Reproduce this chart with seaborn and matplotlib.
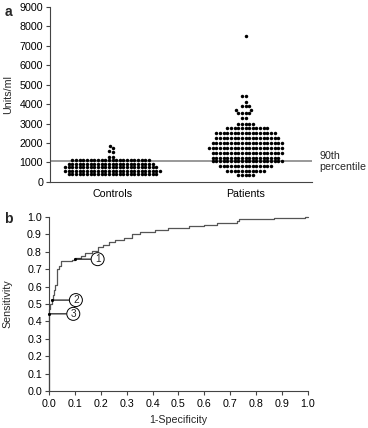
import numpy as np
import pandas as pd
import matplotlib
matplotlib.use("Agg")
import matplotlib.pyplot as plt
import seaborn as sns

# panel a: values, grouped in rows (level, how many dots)
control_levels = [400, 580, 760, 940, 1120, 1300, 1550, 1600, 1750, 1850]
control_counts = [25, 27, 26, 24, 22, 2, 1, 1, 1, 1]
patient_levels = [375, 575, 800, 1050, 1250, 1500, 1750, 2000, 2250, 2500, 2750,
                  3000, 3300, 3550, 3700, 3900, 4100, 4400, 7500]
patient_counts = [5, 11, 15, 20, 19, 20, 21, 20, 18, 17, 12, 5, 2, 4, 2, 3, 1, 2, 1]
percentile_90 = 1100

# panel b: ROC curve, start of each horizontal step
roc_fpr = [0.000, 0.000, 0.005, 0.010, 0.015, 0.020, 0.025, 0.030, 0.032, 0.040, 0.045,
           0.090, 0.100, 0.125, 0.140, 0.165, 0.190, 0.210, 0.230, 0.255, 0.290, 0.320,
           0.350, 0.410, 0.460, 0.540, 0.600, 0.650, 0.725, 0.735, 0.870, 0.990, 1.000]
roc_tpr = [0.000, 0.470, 0.500, 0.520, 0.550, 0.580, 0.610, 0.650, 0.700, 0.720, 0.745,
           0.755, 0.765, 0.775, 0.790, 0.805, 0.825, 0.840, 0.855, 0.865, 0.880, 0.900,
           0.912, 0.925, 0.935, 0.945, 0.955, 0.962, 0.975, 0.985, 0.992, 1.000, 1.000]
cut_labels = ["1", "2", "3"]
cut_fpr = [0.100, 0.010, 0.000]
cut_tpr = [0.757, 0.522, 0.443]
cut_label_fpr = [0.188, 0.104, 0.094]

sns.set_style("ticks")
plt.rcParams["font.family"] = ["Liberation Sans", "DejaVu Sans"]
plt.rcParams["axes.edgecolor"] = "#444444"
plt.rcParams["xtick.color"] = "#444444"
plt.rcParams["ytick.color"] = "#444444"
plt.rcParams["xtick.labelcolor"] = "black"
plt.rcParams["ytick.labelcolor"] = "black"

FS = 7.7

df = pd.DataFrame({
    "group": ["Controls"] * sum(control_counts) + ["Patients"] * sum(patient_counts),
    "units": np.concatenate([np.repeat(control_levels, control_counts),
                             np.repeat(patient_levels, patient_counts)]),
})

fig = plt.figure(figsize=(3.68, 4.28), dpi=100)
ax1 = fig.add_axes([0.136, 0.575, 0.712, 0.409])
ax2 = fig.add_axes([0.133, 0.0864, 0.704, 0.407])

# --- a ---
sns.swarmplot(data=df, x="group", y="units", color="black", size=2.5, linewidth=0, ax=ax1)
ax1.axhline(percentile_90, color="#888888", lw=1.2, zorder=0)
ax1.set_xlim(-0.47, 1.5)
ax1.set_ylim(0, 9000)
ax1.set_yticks(range(0, 9001, 1000))
ax1.tick_params(axis="y", labelsize=FS, length=3, width=0.8, pad=2)
ax1.tick_params(axis="x", labelsize=FS, length=0, pad=5)
ax1.set_xlabel("")
ax1.set_ylabel("Units/ml", fontsize=FS)
ax1.yaxis.set_label_coords(-0.14, 0.5)
ax1.annotate("90th\npercentile", xy=(1.027, percentile_90 - 50),
             xycoords=("axes fraction", "data"), fontsize=FS, va="center", ha="left",
             annotation_clip=False)
sns.despine(ax=ax1)

# --- b ---
sns.lineplot(x=roc_fpr, y=roc_tpr, estimator=None, sort=False, drawstyle="steps-post",
             color="#555555", lw=0.9, ax=ax2, clip_on=False)
sns.scatterplot(x=cut_fpr, y=cut_tpr, color="black", s=5, linewidth=0, ax=ax2, clip_on=False, zorder=4)
for lab, x, y, lx in zip(cut_labels, cut_fpr, cut_tpr, cut_label_fpr):
    ax2.annotate(lab, xy=(x, y), xytext=(lx, y), fontsize=FS - 0.5, ha="center", va="center",
                 bbox=dict(boxstyle="circle,pad=0.15", fc="white", ec="black", lw=0.7),
                 arrowprops=dict(arrowstyle="-", color="black", lw=0.8, shrinkA=0, shrinkB=0))
ax2.set_xlim(0, 1)
ax2.set_ylim(0, 1)
ax2.set_xticks(np.arange(0, 1.01, 0.1))
ax2.set_yticks(np.arange(0, 1.01, 0.1))
ax2.xaxis.set_major_formatter(matplotlib.ticker.FormatStrFormatter("%.1f"))
ax2.yaxis.set_major_formatter(matplotlib.ticker.FormatStrFormatter("%.1f"))
ax2.tick_params(labelsize=FS, length=3, width=0.8, pad=2)
ax2.tick_params(axis="x", pad=3)
ax2.set_xlabel("1-Specificity", fontsize=FS, labelpad=4)
ax2.set_ylabel("Sensitivity", fontsize=FS)
ax2.yaxis.set_label_coords(-0.139, 0.5)
sns.despine(ax=ax2)

fig.text(0.012, 0.988, "a", fontsize=10, fontweight="bold", va="top")
fig.text(0.012, 0.505, "b", fontsize=10, fontweight="bold", va="top")

fig.savefig("out.png", dpi=100)
